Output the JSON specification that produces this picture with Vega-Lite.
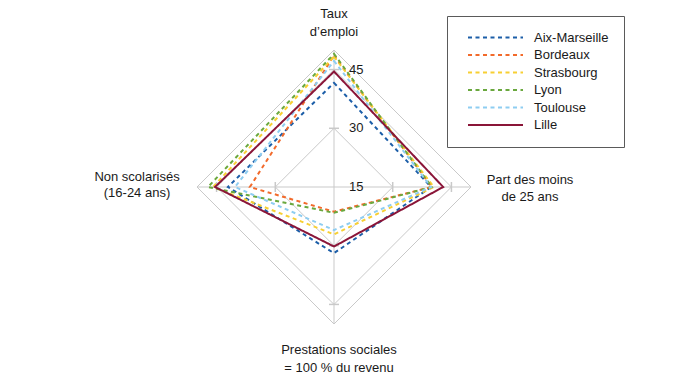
{
  "$schema": "https://vega.github.io/schema/vega-lite/v6.json",
  "width": 274,
  "height": 274,
  "autosize": {"type": "none"},
  "padding": {"left": 197, "top": 50, "right": 207, "bottom": 62},
  "background": "white",
  "config": {
    "view": {"stroke": null},
    "font": "Liberation Sans",
    "text": {"font": "Liberation Sans", "color": "#1a1a1a"},
    "legend": {"labelFont": "Liberation Sans"}
  },
  "datasets": {
    "radar": [
      {"ville": "Aix-Marseille", "axe": "Taux d’emploi", "valeur": 41.6},
      {"ville": "Aix-Marseille", "axe": "Part des moins de 25 ans", "valeur": 39.8},
      {"ville": "Aix-Marseille", "axe": "Prestations sociales = 100 % du revenu", "valeur": 31.9},
      {"ville": "Aix-Marseille", "axe": "Non scolarisés (16-24 ans)", "valeur": 42.1},
      {"ville": "Bordeaux", "axe": "Taux d’emploi", "valeur": 48.6},
      {"ville": "Bordeaux", "axe": "Part des moins de 25 ans", "valeur": 40.0},
      {"ville": "Bordeaux", "axe": "Prestations sociales = 100 % du revenu", "valeur": 21.3},
      {"ville": "Bordeaux", "axe": "Non scolarisés (16-24 ans)", "valeur": 36.5},
      {"ville": "Strasbourg", "axe": "Taux d’emploi", "valeur": 48.3},
      {"ville": "Strasbourg", "axe": "Part des moins de 25 ans", "valeur": 40.5},
      {"ville": "Strasbourg", "axe": "Prestations sociales = 100 % du revenu", "valeur": 27.1},
      {"ville": "Strasbourg", "axe": "Non scolarisés (16-24 ans)", "valeur": 45.9},
      {"ville": "Lyon", "axe": "Taux d’emploi", "valeur": 49.0},
      {"ville": "Lyon", "axe": "Part des moins de 25 ans", "valeur": 40.0},
      {"ville": "Lyon", "axe": "Prestations sociales = 100 % du revenu", "valeur": 21.6},
      {"ville": "Lyon", "axe": "Non scolarisés (16-24 ans)", "valeur": 47.2},
      {"ville": "Toulouse", "axe": "Taux d’emploi", "valeur": 47.2},
      {"ville": "Toulouse", "axe": "Part des moins de 25 ans", "valeur": 39.8},
      {"ville": "Toulouse", "axe": "Prestations sociales = 100 % du revenu", "valeur": 26.0},
      {"ville": "Toulouse", "axe": "Non scolarisés (16-24 ans)", "valeur": 40.3},
      {"ville": "Lille", "axe": "Taux d’emploi", "valeur": 44.5},
      {"ville": "Lille", "axe": "Part des moins de 25 ans", "valeur": 42.9},
      {"ville": "Lille", "axe": "Prestations sociales = 100 % du revenu", "valeur": 30.2},
      {"ville": "Lille", "axe": "Non scolarisés (16-24 ans)", "valeur": 45.4}
    ],
    "grille": [
      {"axe": "Taux d’emploi", "valeur": 30}, {"axe": "Part des moins de 25 ans", "valeur": 30},
      {"axe": "Prestations sociales = 100 % du revenu", "valeur": 30}, {"axe": "Non scolarisés (16-24 ans)", "valeur": 30},
      {"axe": "Taux d’emploi", "valeur": 45}, {"axe": "Part des moins de 25 ans", "valeur": 45},
      {"axe": "Prestations sociales = 100 % du revenu", "valeur": 45}, {"axe": "Non scolarisés (16-24 ans)", "valeur": 45},
      {"axe": "Taux d’emploi", "valeur": 50}, {"axe": "Part des moins de 25 ans", "valeur": 50},
      {"axe": "Prestations sociales = 100 % du revenu", "valeur": 50}, {"axe": "Non scolarisés (16-24 ans)", "valeur": 50}
    ],
    "graduations": [
      {"axe": "Taux d’emploi", "valeur": 15, "texte": "15"},
      {"axe": "Taux d’emploi", "valeur": 30, "texte": "30"},
      {"axe": "Taux d’emploi", "valeur": 45, "texte": "45"}
    ],
    "axes": [
      {"axe": "Taux d’emploi", "valeur": 50, "libelle": ["Taux", "d’emploi"]},
      {"axe": "Part des moins de 25 ans", "valeur": 50, "libelle": ["Part des moins", "de 25 ans"]},
      {"axe": "Prestations sociales = 100 % du revenu", "valeur": 50, "libelle": ["Prestations sociales", "= 100 % du revenu"]},
      {"axe": "Non scolarisés (16-24 ans)", "valeur": 50, "libelle": ["Non scolarisés", "(16-24 ans)"]}
    ]
  },
  "layer": [
    {
      "data": {"name": "grille"},
      "transform": [
        {"calculate": "indexof(['Taux d’emploi','Part des moins de 25 ans','Prestations sociales = 100 % du revenu','Non scolarisés (16-24 ans)'], datum.axe)", "as": "idx"},
        {"calculate": "round((datum.valeur - 15) * sin(datum.idx * PI / 2) * 1000) / 1000", "as": "px"},
        {"calculate": "round((datum.valeur - 15) * cos(datum.idx * PI / 2) * 1000) / 1000", "as": "py"}
      ],
      "layer": [
        {
          "mark": {"type": "line", "interpolate": "linear-closed", "stroke": "#c9c9c9", "strokeWidth": 1},
          "encoding": {
            "x": {"field": "px", "type": "quantitative", "scale": {"domain": [-35, 35], "nice": false, "zero": false}, "axis": null},
            "y": {"field": "py", "type": "quantitative", "scale": {"domain": [-35, 35], "nice": false, "zero": false}, "axis": null},
            "detail": {"field": "valeur", "type": "nominal"},
            "order": {"field": "idx", "type": "quantitative"}
          }
        },
        {
          "transform": [{"filter": "datum.valeur == 50"}],
          "mark": {"type": "rule", "stroke": "#c9c9c9", "strokeWidth": 1},
          "encoding": {
            "x": {"field": "px", "type": "quantitative"},
            "y": {"field": "py", "type": "quantitative"},
            "x2": {"datum": 0},
            "y2": {"datum": 0}
          }
        },
        {
          "transform": [{"filter": "datum.valeur < 50 && (datum.idx == 0 || datum.idx == 2)"}],
          "mark": {"type": "point", "shape": "M-1,0H1", "size": 100, "filled": false, "stroke": "#c9c9c9", "strokeWidth": 1.5, "opacity": 1},
          "encoding": {
            "x": {"field": "px", "type": "quantitative"},
            "y": {"field": "py", "type": "quantitative"}
          }
        },
        {
          "transform": [{"filter": "datum.valeur < 50 && (datum.idx == 1 || datum.idx == 3)"}],
          "mark": {"type": "point", "shape": "M0,-1V1", "size": 100, "filled": false, "stroke": "#c9c9c9", "strokeWidth": 1.5, "opacity": 1},
          "encoding": {
            "x": {"field": "px", "type": "quantitative"},
            "y": {"field": "py", "type": "quantitative"}
          }
        }
      ]
    },
    {
      "data": {"name": "radar"},
      "transform": [
        {"calculate": "indexof(['Taux d’emploi','Part des moins de 25 ans','Prestations sociales = 100 % du revenu','Non scolarisés (16-24 ans)'], datum.axe)", "as": "idx"},
        {"calculate": "(datum.valeur - 15) * sin(datum.idx * PI / 2)", "as": "px"},
        {"calculate": "(datum.valeur - 15) * cos(datum.idx * PI / 2)", "as": "py"}
      ],
      "mark": {"type": "line", "interpolate": "linear-closed", "strokeWidth": 2},
      "encoding": {
        "x": {"field": "px", "type": "quantitative"},
        "y": {"field": "py", "type": "quantitative"},
        "order": {"field": "idx", "type": "quantitative"},
        "color": {
          "field": "ville",
          "type": "nominal",
          "scale": {
            "domain": ["Aix-Marseille", "Bordeaux", "Strasbourg", "Lyon", "Toulouse", "Lille"],
            "range": ["#1c5ea8", "#f26a2b", "#f7cf33", "#6aa83e", "#8ecdf1", "#8a1538"]
          },
          "legend": {
            "orient": "none",
            "legendX": 250,
            "legendY": -34,
            "title": null,
            "strokeColor": "#5a5a5a",
            "fillColor": "white",
            "padding": 15,
            "symbolType": "M-5,0H5",
            "symbolSize": 121,
            "symbolStrokeWidth": 2,
            "symbolOffset": 27,
            "labelOffset": 32,
            "rowPadding": 3.5,
            "labelFontSize": 13,
            "labelColor": "#1a1a1a"
          }
        },
        "strokeDash": {
          "field": "ville",
          "type": "nominal",
          "scale": {
            "domain": ["Aix-Marseille", "Bordeaux", "Strasbourg", "Lyon", "Toulouse", "Lille"],
            "range": [[4, 3.5], [4, 3.5], [4, 3.5], [4, 3.5], [4, 3.5], [1, 0]]
          }
        }
      }
    },
    {
      "data": {"name": "graduations"},
      "transform": [
        {"calculate": "datum.valeur - 15", "as": "py"}
      ],
      "mark": {"type": "text", "align": "left", "baseline": "middle", "dx": 15, "fontSize": 13},
      "encoding": {
        "x": {"datum": 0, "type": "quantitative"},
        "y": {"field": "py", "type": "quantitative"},
        "text": {"field": "texte", "type": "nominal"}
      }
    },
    {
      "data": {"name": "axes"},
      "transform": [
        {"calculate": "indexof(['Taux d’emploi','Part des moins de 25 ans','Prestations sociales = 100 % du revenu','Non scolarisés (16-24 ans)'], datum.axe)", "as": "idx"},
        {"calculate": "round((datum.valeur - 15) * sin(datum.idx * PI / 2) * 1000) / 1000", "as": "px"},
        {"calculate": "round((datum.valeur - 15) * cos(datum.idx * PI / 2) * 1000) / 1000", "as": "py"}
      ],
      "layer": [
        {
          "transform": [{"filter": "datum.idx == 0"}],
          "mark": {"type": "text", "align": "center", "baseline": "middle", "dy": -36, "fontSize": 13, "lineHeight": 18},
          "encoding": {"x": {"field": "px", "type": "quantitative"}, "y": {"field": "py", "type": "quantitative"}, "text": {"field": "libelle", "type": "nominal"}}
        },
        {
          "transform": [{"filter": "datum.idx == 1"}],
          "mark": {"type": "text", "align": "center", "baseline": "middle", "dx": 59, "dy": -7, "fontSize": 13, "lineHeight": 17},
          "encoding": {"x": {"field": "px", "type": "quantitative"}, "y": {"field": "py", "type": "quantitative"}, "text": {"field": "libelle", "type": "nominal"}}
        },
        {
          "transform": [{"filter": "datum.idx == 2"}],
          "mark": {"type": "text", "align": "center", "baseline": "middle", "dx": 5, "dy": 26, "fontSize": 13, "lineHeight": 18},
          "encoding": {"x": {"field": "px", "type": "quantitative"}, "y": {"field": "py", "type": "quantitative"}, "text": {"field": "libelle", "type": "nominal"}}
        },
        {
          "transform": [{"filter": "datum.idx == 3"}],
          "mark": {"type": "text", "align": "center", "baseline": "middle", "dx": -60, "dy": -10, "fontSize": 13, "lineHeight": 16},
          "encoding": {"x": {"field": "px", "type": "quantitative"}, "y": {"field": "py", "type": "quantitative"}, "text": {"field": "libelle", "type": "nominal"}}
        }
      ]
    }
  ]
}
